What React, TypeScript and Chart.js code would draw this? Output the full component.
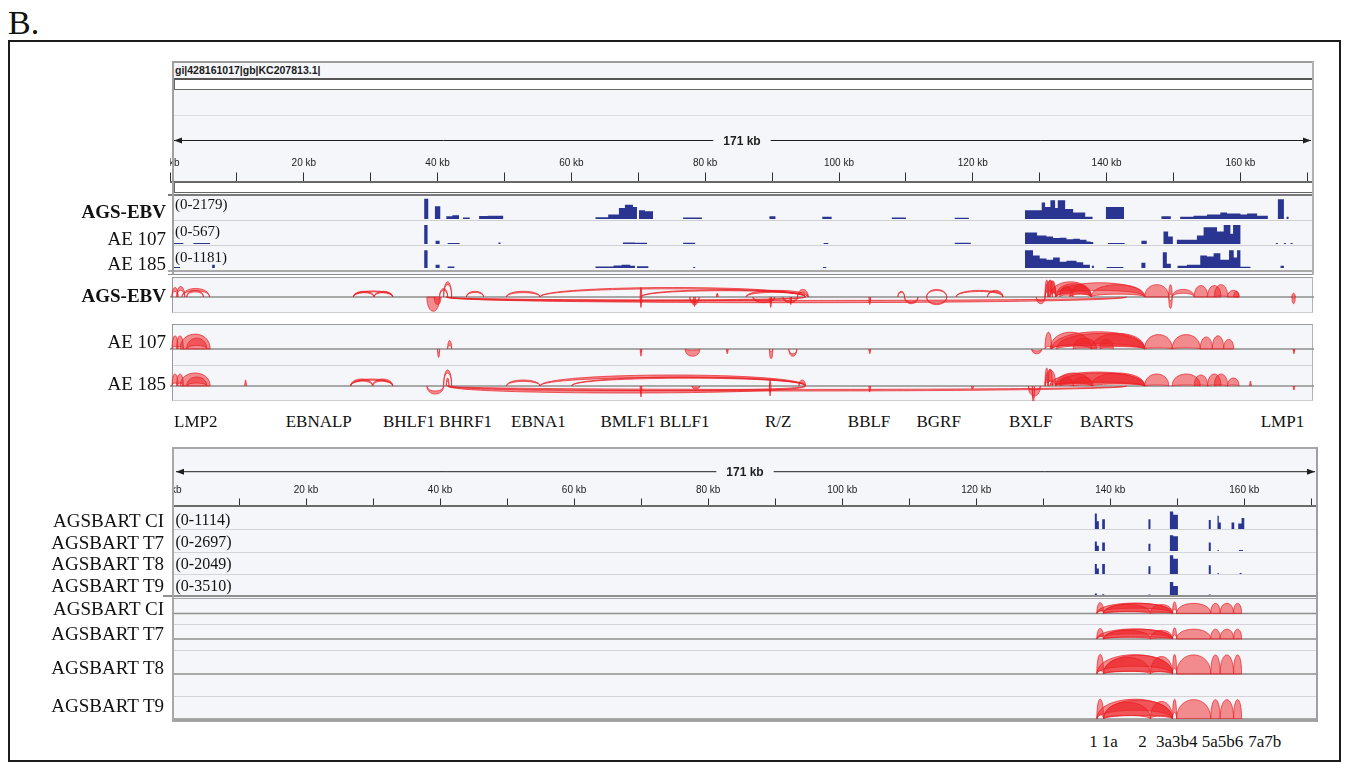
import React, { useEffect, useRef } from 'react';
import { Chart, registerables } from 'chart.js';

Chart.register(...registerables);

// ---------------- DATA ----------------
const GENOME_KB = 171;
const RULER_TICKS_KB = [0, 10, 20, 30, 40, 50, 60, 70, 80, 90, 100, 110, 120, 130, 140, 150, 160, 170];
const RULER_LABEL_EVERY_KB = 20;
const HEADER_TEXT = 'gi|428161017|gb|KC207813.1|';

// coverage segments: [start kb, end kb, reads]
type Seg = [number, number, number];
const COV_AGS_EBV: Seg[] = [
  [38.0, 38.6, 2000], [39.6, 40.4, 1260], [41.3, 42.2, 260], [42.2, 43.2, 380], [43.8, 44.8, 150],
  [46.2, 47.5, 300], [47.5, 49.8, 330], [63.6, 65.5, 170], [65.5, 67.1, 440], [67.1, 68.0, 1100],
  [68.0, 69.2, 1420], [69.2, 69.8, 1200], [70.1, 71.0, 870], [71.0, 72.2, 760], [76.7, 79.5, 150],
  [89.6, 90.5, 260], [97.5, 98.9, 220], [107.9, 110.0, 150], [117.3, 119.4, 130],
  [127.8, 130.3, 870], [130.3, 130.8, 1630], [130.8, 131.6, 1200], [131.6, 132.3, 1850], [132.3, 132.7, 1090],
  [132.7, 133.8, 1850], [133.8, 135.0, 980], [135.0, 136.8, 650], [136.8, 137.9, 220],
  [139.9, 142.6, 1200], [148.2, 149.6, 260], [151.0, 153.0, 220], [153.0, 155.0, 330], [155.0, 157.0, 440],
  [157.0, 158.0, 650], [158.0, 160.0, 540], [160.0, 161.0, 440], [161.0, 162.5, 540], [162.5, 164.1, 330],
  [165.6, 166.5, 1960], [166.9, 167.2, 220],
];
const COV_AE107: Seg[] = [
  [0.6, 2.0, 30], [3.5, 6.0, 25], [38.0, 38.5, 510], [39.7, 40.3, 85], [41.5, 43.3, 28], [49.1, 49.4, 40],
  [67.7, 69.5, 40], [69.5, 71.3, 35], [76.7, 78.5, 34], [97.7, 98.4, 28], [117.3, 119.7, 34],
  [127.8, 129.6, 310], [129.6, 131.0, 230], [131.0, 132.0, 200], [132.0, 133.0, 160], [133.0, 134.0, 170],
  [134.0, 135.0, 125], [135.0, 136.0, 140], [136.0, 137.0, 113], [137.0, 137.6, 70], [137.6, 138.0, 57],
  [140.2, 142.7, 28], [145.2, 146.0, 85], [148.5, 149.2, 340], [149.2, 149.9, 200], [150.5, 153.5, 113],
  [153.5, 154.5, 230], [154.5, 156.5, 450], [156.5, 157.5, 340], [157.5, 158.5, 510], [158.5, 158.9, 280],
  [158.9, 160.0, 510], [165.3, 165.6, 28], [166.5, 166.8, 28], [167.5, 167.8, 28],
];
const COV_AE185: Seg[] = [
  [0.6, 1.5, 50], [6.3, 6.7, 180], [38.0, 38.5, 1000], [39.7, 40.3, 180], [41.5, 42.5, 80],
  [63.6, 66.3, 80], [66.3, 67.5, 140], [67.5, 68.8, 180], [68.8, 69.5, 130], [69.8, 71.5, 95],
  [78.2, 78.5, 60], [97.6, 98.1, 60],
  [127.8, 129.0, 1000], [129.0, 130.0, 710], [130.0, 131.0, 530], [131.0, 132.0, 470], [132.0, 133.0, 590],
  [133.0, 134.0, 350], [134.0, 135.5, 410], [135.5, 136.5, 330], [136.5, 137.5, 180], [137.8, 138.1, 120],
  [140.0, 142.5, 60], [145.2, 145.8, 300], [148.4, 149.0, 890], [149.0, 149.6, 240], [150.6, 152.0, 120],
  [152.0, 154.0, 180], [154.0, 155.0, 710], [155.0, 156.0, 650], [156.0, 157.0, 830], [157.0, 158.3, 470],
  [158.3, 159.0, 1000], [159.0, 159.5, 590], [159.5, 160.0, 1000], [160.0, 161.5, 70], [166.0, 166.5, 120],
];
const COV_BART_CI: Seg[] = [
  [137.7, 138.0, 780], [138.0, 138.3, 390], [138.8, 139.2, 500], [145.7, 146.0, 500], [148.9, 149.4, 890],
  [149.4, 150.1, 720], [154.7, 155.0, 450], [156.0, 156.2, 670], [156.2, 156.5, 330], [158.1, 158.5, 330],
  [159.1, 159.6, 280], [159.6, 160.0, 560],
];
const COV_BART_T7: Seg[] = [
  [137.7, 138.0, 1210], [138.0, 138.3, 670], [138.8, 139.2, 1080], [145.7, 146.0, 940], [148.9, 149.4, 2020],
  [149.4, 150.1, 1890], [154.7, 155.0, 1080], [156.0, 156.2, 130], [159.2, 159.8, 130],
];
const COV_BART_T8: Seg[] = [
  [137.7, 138.0, 920], [138.0, 138.3, 510], [138.8, 139.2, 920], [145.7, 146.0, 720], [148.9, 149.4, 1740],
  [149.4, 150.1, 1430], [154.7, 155.0, 820], [156.0, 156.2, 100], [159.3, 159.6, 100],
];
const COV_BART_T9: Seg[] = [
  [137.7, 138.0, 280], [138.8, 139.1, 140], [145.7, 146.0, 100], [148.9, 149.4, 2280], [149.4, 150.1, 1580],
  [154.7, 155.0, 100],
];

// splice junction arcs: [start kb, end kb, height, thickness, side (+1 above / -1 below)]
type Arc = [number, number, number, number, number];
const SJ_AGS_EBV: Arc[] = [
  [0.3, 1.2, 0.5, 0.2, 1], [1.0, 2.2, 0.55, 0.2, 1], [1.8, 5.9, 0.45, 0.12, 1], [2.5, 5.0, 0.35, 0.08, 1],
  [27.4, 30.5, 0.3, 0.07, 1], [30.5, 33.3, 0.3, 0.07, 1], [27.4, 33.3, 0.32, 0.05, 1],
  [40.3, 41.5, 0.45, 0.1, 1], [40.9, 42.1, 0.8, 0.15, 1], [44.3, 46.9, 0.3, 0.06, 1], [50.3, 55.3, 0.3, 0.07, 1],
  [55.3, 95.0, 0.5, 0.07, 1], [70.4, 95.0, 0.38, 0.05, 1], [70.3, 70.5, 0.5, 0.1, 1], [81.7, 81.9, 0.2, 0.05, 1],
  [86.1, 95.4, 0.35, 0.1, 1], [93.8, 95.4, 0.4, 0.15, 1],
  [108.8, 109.8, 0.3, 0.06, 1], [113.1, 116.1, 0.4, 0.06, 1], [117.5, 124.5, 0.35, 0.06, 1], [122.2, 124.5, 0.35, 0.06, 1],
  [130.8, 131.3, 0.9, 0.6, 1], [131.2, 131.9, 0.9, 0.6, 1], [131.5, 132.4, 0.85, 0.6, 1], [130.8, 132.4, 0.85, 0.5, 1],
  [132.4, 137.7, 0.7, 0.5, 1], [131.5, 137.7, 0.8, 0.45, 1], [132.4, 145.7, 0.75, 0.4, 1], [137.7, 145.7, 0.65, 0.5, 1],
  [133.0, 135.0, 0.55, 0.45, 1], [134.5, 137.7, 0.6, 0.45, 1],
  [145.7, 149.3, 0.65, 0.65, 1], [149.3, 149.8, 0.65, 0.5, 1], [149.8, 153.1, 0.4, 0.2, 1], [153.1, 155.1, 0.6, 0.6, 1],
  [155.1, 157.1, 0.6, 0.6, 1], [156.1, 158.1, 0.65, 0.6, 1], [158.1, 159.8, 0.35, 0.35, 1], [159.0, 159.8, 0.3, 0.3, 1],
  [167.7, 168.2, 0.2, 0.15, 1],
  [38.4, 40.3, 0.75, 0.75, -1], [39.5, 40.5, 0.4, 0.3, -1], [41.3, 143.0, 0.3, 0.12, -1], [41.3, 95.0, 0.22, 0.06, -1],
  [70.3, 70.5, 0.55, 0.2, -1], [77.7, 79.1, 0.4, 0.15, -1], [78.3, 78.5, 0.5, 0.15, -1], [87.1, 90.4, 0.3, 0.1, -1],
  [89.7, 89.9, 0.55, 0.2, -1], [91.6, 93.8, 0.3, 0.1, -1], [92.7, 92.9, 0.4, 0.15, -1], [104.5, 104.7, 0.4, 0.15, -1],
  [109.8, 111.8, 0.35, 0.08, -1], [113.1, 116.1, 0.4, 0.06, -1], [129.5, 130.8, 0.35, 0.15, -1],
  [149.3, 149.8, 0.6, 0.4, -1], [167.7, 168.2, 0.35, 0.3, -1],
];
const SJ_AE107: Arc[] = [
  [0.3, 1.2, 0.55, 0.45, 1], [1.0, 2.0, 0.55, 0.45, 1], [1.5, 6.0, 0.62, 0.62, 1], [2.5, 5.5, 0.45, 0.3, 1],
  [41.5, 42.1, 0.35, 0.2, 1],
  [130.8, 131.8, 0.7, 0.6, 1], [131.6, 137.7, 0.7, 0.55, 1], [131.8, 145.7, 0.72, 0.5, 1], [132.5, 145.7, 0.65, 0.5, 1],
  [137.7, 145.7, 0.65, 0.55, 1], [135.0, 138.5, 0.45, 0.4, 1], [139.0, 141.0, 0.4, 0.35, 1], [145.7, 149.8, 0.6, 0.55, 1],
  [149.8, 154.0, 0.6, 0.55, 1], [154.0, 155.8, 0.5, 0.5, 1], [155.8, 157.5, 0.55, 0.55, 1], [157.5, 159.0, 0.4, 0.4, 1],
  [40.0, 40.3, 0.35, 0.2, -1], [70.3, 70.5, 0.3, 0.15, -1], [77.0, 79.2, 0.3, 0.25, -1], [83.2, 83.4, 0.2, 0.1, -1],
  [89.6, 90.1, 0.4, 0.3, -1], [92.5, 93.7, 0.3, 0.1, -1], [104.5, 104.7, 0.2, 0.1, -1], [128.8, 130.3, 0.2, 0.12, -1],
  [167.9, 168.1, 0.2, 0.1, -1],
];
const SJ_AE185: Arc[] = [
  [0.3, 1.2, 0.6, 0.45, 1], [1.0, 2.0, 0.6, 0.45, 1], [1.5, 6.0, 0.65, 0.65, 1], [2.5, 5.5, 0.45, 0.3, 1],
  [11.2, 11.4, 0.3, 0.15, 1], [27.0, 30.3, 0.35, 0.1, 1], [30.3, 33.3, 0.35, 0.1, 1], [27.0, 33.3, 0.35, 0.06, 1],
  [40.9, 42.1, 0.8, 0.15, 1], [41.3, 41.7, 0.4, 0.15, 1], [50.3, 55.3, 0.3, 0.07, 1], [55.3, 95.0, 0.55, 0.12, 1],
  [60.0, 95.0, 0.45, 0.06, 1], [89.6, 89.8, 0.3, 0.15, 1], [94.0, 95.0, 0.3, 0.15, 1],
  [130.8, 131.3, 0.9, 0.6, 1], [131.2, 131.9, 0.85, 0.6, 1], [130.8, 132.4, 0.8, 0.55, 1], [132.4, 137.7, 0.65, 0.5, 1],
  [131.5, 145.7, 0.7, 0.5, 1], [132.4, 145.7, 0.65, 0.5, 1], [137.7, 145.7, 0.65, 0.55, 1], [133.0, 135.0, 0.45, 0.4, 1],
  [135.0, 138.0, 0.45, 0.4, 1], [145.7, 149.3, 0.6, 0.55, 1], [149.8, 154.0, 0.6, 0.55, 1], [153.1, 155.1, 0.55, 0.5, 1],
  [155.1, 157.1, 0.6, 0.55, 1], [156.1, 158.1, 0.6, 0.55, 1], [158.1, 159.8, 0.4, 0.35, 1], [161.4, 161.6, 0.25, 0.15, 1],
  [38.4, 40.9, 0.4, 0.15, -1], [41.5, 95.0, 0.35, 0.12, -1], [41.5, 143.0, 0.25, 0.08, -1], [70.3, 70.5, 0.55, 0.2, -1],
  [78.0, 79.2, 0.15, 0.1, -1], [89.6, 89.8, 0.5, 0.2, -1], [104.5, 104.7, 0.3, 0.15, -1], [119.8, 120.1, 0.15, 0.08, -1],
  [128.3, 130.1, 0.5, 0.3, -1], [128.9, 129.2, 0.9, 0.3, -1], [167.9, 168.1, 0.2, 0.15, -1],
];
const SJ_BART_CI: Arc[] = [
  [138.0, 139.0, 0.75, 0.55, 1], [138.0, 149.3, 0.72, 0.35, 1], [139.0, 149.3, 0.7, 0.55, 1], [139.0, 146.0, 0.62, 0.5, 1],
  [146.0, 149.3, 0.62, 0.55, 1], [149.3, 149.9, 0.8, 0.5, 1], [149.9, 155.0, 0.7, 0.7, 1], [155.0, 156.4, 0.7, 0.7, 1],
  [156.4, 158.4, 0.7, 0.7, 1], [158.4, 159.6, 0.7, 0.7, 1],
];
const SJ_BART_T7: Arc[] = [
  [138.0, 139.0, 0.75, 0.55, 1], [138.0, 149.3, 0.72, 0.35, 1], [139.0, 149.3, 0.7, 0.55, 1], [139.0, 146.0, 0.62, 0.5, 1],
  [146.0, 149.3, 0.62, 0.55, 1], [149.3, 149.9, 0.8, 0.5, 1], [149.9, 155.0, 0.7, 0.7, 1], [155.0, 156.4, 0.7, 0.7, 1],
  [156.4, 158.4, 0.7, 0.7, 1], [158.4, 159.6, 0.7, 0.7, 1],
];
const SJ_BART_T8: Arc[] = [
  [138.0, 139.0, 0.85, 0.7, 1], [138.0, 149.3, 0.84, 0.5, 1], [139.0, 149.3, 0.82, 0.7, 1], [139.0, 146.0, 0.72, 0.6, 1],
  [146.0, 149.3, 0.76, 0.65, 1], [149.3, 149.9, 0.85, 0.6, 1], [149.9, 155.0, 0.83, 0.83, 1], [155.0, 156.4, 0.83, 0.83, 1],
  [156.4, 158.4, 0.83, 0.83, 1], [158.4, 159.6, 0.83, 0.83, 1],
];
const SJ_BART_T9: Arc[] = [
  [138.0, 139.0, 0.9, 0.7, 1], [138.0, 149.3, 0.9, 0.5, 1], [139.0, 149.3, 0.86, 0.7, 1], [139.0, 146.0, 0.76, 0.6, 1],
  [146.0, 149.3, 0.8, 0.65, 1], [149.3, 149.9, 0.9, 0.6, 1], [149.9, 155.0, 0.88, 0.88, 1], [155.0, 156.4, 0.88, 0.88, 1],
  [156.4, 158.4, 0.88, 0.88, 1], [158.4, 159.6, 0.88, 0.88, 1],
];

const TOP_TRACKS = ['AGS-EBV', 'AE 107', 'AE 185'];
const TOP_RANGES = [2179, 567, 1181];
const BART_TRACKS = ['AGSBART CI', 'AGSBART T7', 'AGSBART T8', 'AGSBART T9'];
const BART_RANGES = [1114, 2697, 2049, 3510];
const GENE_LABELS = ['LMP2', 'EBNALP', 'BHLF1 BHRF1', 'EBNA1', 'BMLF1 BLLF1', 'R/Z', 'BBLF', 'BGRF', 'BXLF', 'BARTS', 'LMP1'];
const EXON_LABELS = ['1', '1a', '2', '3a3b4', '5a5b6', '7a7b'];

// ---------------- LAYOUT / STYLE ----------------
const SERIF = '"Liberation Serif", "Times New Roman", Times, serif';
const SANS = 'Arial, "Liberation Sans", Helvetica, sans-serif';
const BG = '#f5f6f9';
const BLUE = '#2a3591';
const RED_FILL = 'rgba(238, 32, 36, 0.5)';
const RED_LINE = 'rgba(234, 30, 34, 0.7)';

const TOP_X = 170;
const TOP_W = 1144;
const BOT_X = 172;
const BOT_W = 1146;

const TOP_COV_LAYOUT = [{ top: 197, h: 22 }, { top: 223, h: 21 }, { top: 247, h: 21 }];
const TOP_COV_LABEL_Y = [210, 237, 263];
const TOP_NAME_Y = [218, 245, 270];
const TOP_SJ_LAYOUT = [{ top: 278, h: 35, line: 297 }, { top: 325, h: 40, line: 349 }, { top: 366, h: 35, line: 386 }];
const TOP_SJ_NAME_Y = [302, 348, 390];
const GENE_LABEL_X = [174, 285.7, 383, 511, 600.4, 765, 847.8, 916.5, 1009, 1080, 1260.7];

const BOT_COV_LAYOUT = [{ top: 507, h: 22 }, { top: 530, h: 21 }, { top: 552, h: 22 }, { top: 575, h: 20 }];
const BOT_COV_LABEL_Y = [525, 547, 569.5, 591];
const BOT_NAME_Y = [527, 548.5, 570, 591.5];
const BOT_SJ_LAYOUT = [{ top: 599, h: 25, line: 613.5 }, { top: 625, h: 25, line: 639 }, { top: 651, h: 45, line: 674 }, { top: 697, h: 22, line: 719 }];
const BOT_SJ_NAME_Y = [615, 640, 674, 711.5];
const EXON_LABEL_X = [1089.3, 1101.7, 1138.3, 1156, 1201.7, 1248.3];

// ---------------- CHART HELPERS ----------------
function stepPoints(segs: Seg[]) {
  const pts: { x: number; y: number }[] = [{ x: 0, y: 0 }];
  segs.forEach(([s, e, v], i) => {
    pts.push({ x: s, y: v });
    const next = segs[i + 1];
    if (!next || next[0] > e) pts.push({ x: e, y: 0 });
  });
  pts.push({ x: GENOME_KB, y: 0 });
  return pts;
}

function baseOptions() {
  return {
    animation: false,
    responsive: false,
    maintainAspectRatio: false,
    devicePixelRatio: 1,
    events: [],
    layout: { padding: 0 },
    plugins: { legend: { display: false }, tooltip: { enabled: false } },
  };
}

const hiddenX = { type: 'linear', min: 0, max: GENOME_KB, display: false };

function coverageConfig(segs: Seg[], max: number) {
  return {
    type: 'line',
    data: {
      datasets: [
        {
          data: stepPoints(segs),
          stepped: 'before',
          fill: 'origin',
          backgroundColor: BLUE,
          borderColor: 'rgba(0,0,0,0)',
          borderWidth: 0,
          pointRadius: 0,
        },
      ],
    },
    options: {
      ...baseOptions(),
      scales: { x: hiddenX, y: { type: 'linear', min: 0, max, display: false } },
    },
  };
}

const sashimiPlugin = {
  id: 'sashimiArcs',
  beforeDatasetsDraw(chart: any) {
    const { ctx, chartArea: a, scales } = chart;
    const y0 = scales.y.getPixelForValue(0);
    ctx.save();
    ctx.strokeStyle = '#8e8e8e';
    ctx.lineWidth = 1.5;
    ctx.beginPath();
    ctx.moveTo(a.left, y0);
    ctx.lineTo(a.right, y0);
    ctx.stroke();
    ctx.restore();
  },
  afterDatasetsDraw(chart: any) {
    const { ctx, chartArea: a, scales } = chart;
    const { x, y } = scales;
    const y0 = y.getPixelForValue(0);
    ctx.save();
    ctx.beginPath();
    ctx.rect(a.left, a.top, a.right - a.left, a.bottom - a.top);
    ctx.clip();
    ctx.fillStyle = RED_FILL;
    ctx.strokeStyle = RED_LINE;
    ctx.lineWidth = 1;
    for (const p of chart.data.datasets[0].data) {
      const x1 = x.getPixelForValue(p.x);
      const x2 = x.getPixelForValue(p.x2);
      const side = p.y < 0 ? -1 : 1;
      const h = Math.abs(p.y);
      const yo = y.getPixelForValue(p.y);
      const yi = y.getPixelForValue(side * Math.max(h - p.t, 0));
      const co = y0 + ((yo - y0) * 4) / 3;
      const ci = y0 + ((yi - y0) * 4) / 3;
      ctx.beginPath();
      ctx.moveTo(x1, y0);
      ctx.bezierCurveTo(x1, co, x2, co, x2, y0);
      ctx.bezierCurveTo(x2, ci, x1, ci, x1, y0);
      ctx.closePath();
      ctx.fill();
      ctx.stroke();
    }
    ctx.restore();
  },
};

function sashimiConfig(arcs: Arc[], yMin: number) {
  return {
    type: 'scatter',
    data: {
      datasets: [
        {
          data: arcs.map(([s, e, h, t, side]) => ({ x: s, y: side * h, x2: e, t })),
          pointRadius: 0,
        },
      ],
    },
    options: {
      ...baseOptions(),
      scales: { x: hiddenX, y: { type: 'linear', min: yMin, max: 1, display: false } },
    },
    plugins: [sashimiPlugin],
  };
}

const rulerPlugin = {
  id: 'igvRuler',
  afterDraw(chart: any, _args: any, opts: any) {
    const { ctx } = chart;
    const x = chart.scales.x;
    const x0 = x.getPixelForValue(0) + 4;
    const x1 = x.getPixelForValue(GENOME_KB) - 3;
    const xm = x.getPixelForValue(GENOME_KB / 2);
    const y = opts.arrowY;
    const label = `${GENOME_KB} kb`;
    ctx.save();
    ctx.font = `bold 12px ${SANS}`;
    const tw = ctx.measureText(label).width;
    ctx.strokeStyle = '#1e1e1e';
    ctx.fillStyle = '#1e1e1e';
    ctx.lineWidth = 1;
    ctx.beginPath();
    ctx.moveTo(x0, y);
    ctx.lineTo(xm - tw / 2 - 10, y);
    ctx.moveTo(xm + tw / 2 + 10, y);
    ctx.lineTo(x1, y);
    ctx.stroke();
    ctx.beginPath();
    ctx.moveTo(x0, y);
    ctx.lineTo(x0 + 8, y - 3);
    ctx.lineTo(x0 + 8, y + 3);
    ctx.closePath();
    ctx.fill();
    ctx.beginPath();
    ctx.moveTo(x1, y);
    ctx.lineTo(x1 - 8, y - 3);
    ctx.lineTo(x1 - 8, y + 3);
    ctx.closePath();
    ctx.fill();
    ctx.textAlign = 'center';
    ctx.textBaseline = 'middle';
    ctx.fillText(label, xm, y + 1);
    ctx.restore();
  },
};

function rulerConfig(axisHeight: number, arrowY: number, tickLength: number, padding: number) {
  return {
    type: 'scatter',
    data: { datasets: [] },
    options: {
      ...baseOptions(),
      plugins: { legend: { display: false }, tooltip: { enabled: false }, igvRuler: { arrowY } },
      scales: {
        x: {
          type: 'linear',
          position: 'top',
          min: 0,
          max: GENOME_KB,
          afterBuildTicks: (s: any) => {
            s.ticks = RULER_TICKS_KB.map((v) => ({ value: v }));
          },
          afterFit: (s: any) => {
            s.height = axisHeight;
            s.paddingLeft = 0;
            s.paddingRight = 0;
          },
          grid: { drawOnChartArea: false, drawTicks: true, tickLength, color: '#2e2e2e', lineWidth: 1 },
          border: { display: true, color: '#6a6a6a', width: 2 },
          ticks: {
            autoSkip: false,
            maxRotation: 0,
            minRotation: 0,
            padding,
            color: '#222',
            font: { family: SANS, size: 10 },
            callback: (v: number) => (v % RULER_LABEL_EVERY_KB === 0 ? `${v} kb` : ''),
          },
        },
        y: { display: false, min: 0, max: 1 },
      },
    },
    plugins: [rulerPlugin],
  };
}

function ChartBox({ left, top, width, height, make }: any) {
  const ref = useRef<HTMLCanvasElement | null>(null);
  useEffect(() => {
    if (!ref.current) return;
    const chart = new Chart(ref.current, make());
    return () => chart.destroy();
  }, []);
  return (
    <div style={{ position: 'absolute', left, top, width, height }}>
      <canvas ref={ref} width={width} height={height} style={{ width, height, display: 'block' }} />
    </div>
  );
}

function Txt({ x, y, size, children, bold = false, align = 'left', family = SERIF, color = '#111' }: any) {
  const style: any = {
    position: 'absolute',
    top: y - size * 0.84,
    fontSize: size,
    lineHeight: `${size}px`,
    whiteSpace: 'nowrap',
    fontFamily: family,
    fontWeight: bold ? 700 : 400,
    color,
  };
  if (align === 'right') style.right = 1350 - x;
  else style.left = x;
  return <div style={style}>{children}</div>;
}

function Box({ x, y, w, h, bg = 'transparent', style = {} }: any) {
  return <div style={{ position: 'absolute', left: x, top: y, width: w, height: h, background: bg, boxSizing: 'border-box', ...style }} />;
}

export default function App() {
  const topCov = [COV_AGS_EBV, COV_AE107, COV_AE185];
  const topSj = [SJ_AGS_EBV, SJ_AE107, SJ_AE185];
  const botCov = [COV_BART_CI, COV_BART_T7, COV_BART_T8, COV_BART_T9];
  const botSj = [SJ_BART_CI, SJ_BART_T7, SJ_BART_T8, SJ_BART_T9];

  return (
    <div style={{ position: 'absolute', left: 0, top: 0, width: 1350, height: 763, background: '#fff', overflow: 'hidden' }}>
      <Txt x={8} y={35} size={34}>B.</Txt>
      <Box x={8} y={40} w={1333} h={722} style={{ border: '2px solid #1c1c1c' }} />

      {/* ---------- top panel ---------- */}
      <Box x={172} y={61} w={1141} h={214} bg={BG} />
      <Txt x={175} y={74} size={10.5} bold family={SANS} color="#1a1a1a">{HEADER_TEXT}</Txt>
      <Box x={174} y={78} w={1139} h={12} bg="#fff" style={{ borderTop: '2px solid #555', borderBottom: '1px solid #666', borderLeft: '1px solid #666' }} />
      <Box x={174} y={115} w={1139} h={1} bg="#dcdde0" />
      <ChartBox left={TOP_X} top={90} width={TOP_W} height={105} make={() => rulerConfig(91.5, 50.5, 9, 3)} />
      <Box x={174} y={182} w={1139} h={11} bg="#fff" style={{ border: '1px solid #666' }} />
      <Box x={168} y={194} w={1145} h={2} bg="#7a7a7a" />

      {topCov.map((segs, i) => (
        <ChartBox key={`tc${i}`} left={TOP_X} top={TOP_COV_LAYOUT[i].top} width={TOP_W} height={TOP_COV_LAYOUT[i].h} make={() => coverageConfig(segs, TOP_RANGES[i])} />
      ))}
      <Box x={172} y={220} w={1141} h={1} bg="#cfd0d3" />
      <Box x={172} y={245} w={1141} h={1} bg="#cfd0d3" />
      <Box x={168} y={270} w={1145} h={1.5} bg="#a9a9a9" />
      <Box x={168} y={273.5} w={1145} h={1.5} bg="#8a8a8a" />
      <Box x={172} y={61} w={1141} h={2} bg="#9c9c9c" />
      <Box x={172} y={61} w={1.5} h={214} bg="#a0a0a0" />
      <Box x={1312} y={61} w={1.5} h={214} bg="#b0b0b0" />

      {TOP_RANGES.map((r, i) => (
        <Txt key={`tr${i}`} x={175} y={TOP_COV_LABEL_Y[i]} size={15}>{`(0-${r})`}</Txt>
      ))}
      {TOP_TRACKS.map((n, i) => (
        <Txt key={`tn${i}`} x={166} y={TOP_NAME_Y[i]} size={19} bold={i === 0} align="right">{n}</Txt>
      ))}

      {/* ---------- top sashimi ---------- */}
      <Box x={172} y={277} w={1141} h={36} bg={BG} style={{ borderTop: '1.5px solid #9a9a9a', borderLeft: '1.5px solid #9a9a9a', borderRight: '1px solid #b5b5b5', borderBottom: '1px solid #cfcfcf' }} />
      <Box x={172} y={324} w={1141} h={77} bg={BG} style={{ borderTop: '1.5px solid #9a9a9a', borderLeft: '1.5px solid #9a9a9a', borderRight: '1px solid #b5b5b5', borderBottom: '1px solid #cfcfcf' }} />
      <Box x={173} y={365} w={1139} h={1} bg="#cfd0d3" />
      {topSj.map((arcs, i) => {
        const L = TOP_SJ_LAYOUT[i];
        const yMin = -(L.top + L.h - L.line) / (L.line - L.top);
        return <ChartBox key={`ts${i}`} left={TOP_X} top={L.top} width={TOP_W} height={L.h} make={() => sashimiConfig(arcs, yMin)} />;
      })}
      {TOP_TRACKS.map((n, i) => (
        <Txt key={`tsn${i}`} x={166} y={TOP_SJ_NAME_Y[i]} size={19} bold={i === 0} align="right">{n}</Txt>
      ))}
      {GENE_LABELS.map((g, i) => (
        <Txt key={`g${i}`} x={GENE_LABEL_X[i]} y={427} size={17}>{g}</Txt>
      ))}

      {/* ---------- bottom panel ---------- */}
      <Box x={172} y={447} w={1146} h={275} bg={BG} style={{ border: '2px solid #a8a8a8' }} />
      <ChartBox left={BOT_X} top={448} width={BOT_W} height={60} make={() => rulerConfig(57.5, 23.7, 7, 2)} />
      {botCov.map((segs, i) => (
        <ChartBox key={`bc${i}`} left={BOT_X} top={BOT_COV_LAYOUT[i].top} width={BOT_W} height={BOT_COV_LAYOUT[i].h} make={() => coverageConfig(segs, BART_RANGES[i])} />
      ))}
      <Box x={174} y={529} w={1142} h={1} bg="#d3d4d7" />
      <Box x={174} y={551.5} w={1142} h={1} bg="#d3d4d7" />
      <Box x={174} y={574} w={1142} h={1} bg="#d3d4d7" />
      <Box x={163} y={595} w={1155} h={1.5} bg="#8f8f8f" />
      <Box x={172} y={597.5} w={1146} h={1.5} bg="#a5a5a5" />
      {botSj.map((arcs, i) => {
        const L = BOT_SJ_LAYOUT[i];
        const yMin = -(L.top + L.h - L.line) / (L.line - L.top);
        return <ChartBox key={`bs${i}`} left={BOT_X} top={L.top} width={BOT_W} height={L.h} make={() => sashimiConfig(arcs, yMin)} />;
      })}
      <Box x={174} y={624} w={1142} h={1} bg="#d3d4d7" />
      <Box x={174} y={650} w={1142} h={1} bg="#d3d4d7" />
      <Box x={174} y={696} w={1142} h={1} bg="#d3d4d7" />
      <Box x={172} y={718.5} w={1146} h={2} bg="#a0a0a0" />
      <Box x={172} y={447} w={2} h={275} bg="#a8a8a8" />
      <Box x={1316} y={447} w={2} h={275} bg="#a0a0a0" />

      {BART_RANGES.map((r, i) => (
        <Txt key={`br${i}`} x={175.5} y={BOT_COV_LABEL_Y[i]} size={16}>{`(0-${r})`}</Txt>
      ))}
      {BART_TRACKS.map((n, i) => (
        <Txt key={`bn${i}`} x={164} y={BOT_NAME_Y[i]} size={19} align="right">{n}</Txt>
      ))}
      {BART_TRACKS.map((n, i) => (
        <Txt key={`bsn${i}`} x={164} y={BOT_SJ_NAME_Y[i]} size={19} align="right">{n}</Txt>
      ))}
      {EXON_LABELS.map((e, i) => (
        <Txt key={`e${i}`} x={EXON_LABEL_X[i]} y={747} size={17}>{e}</Txt>
      ))}
    </div>
  );
}
